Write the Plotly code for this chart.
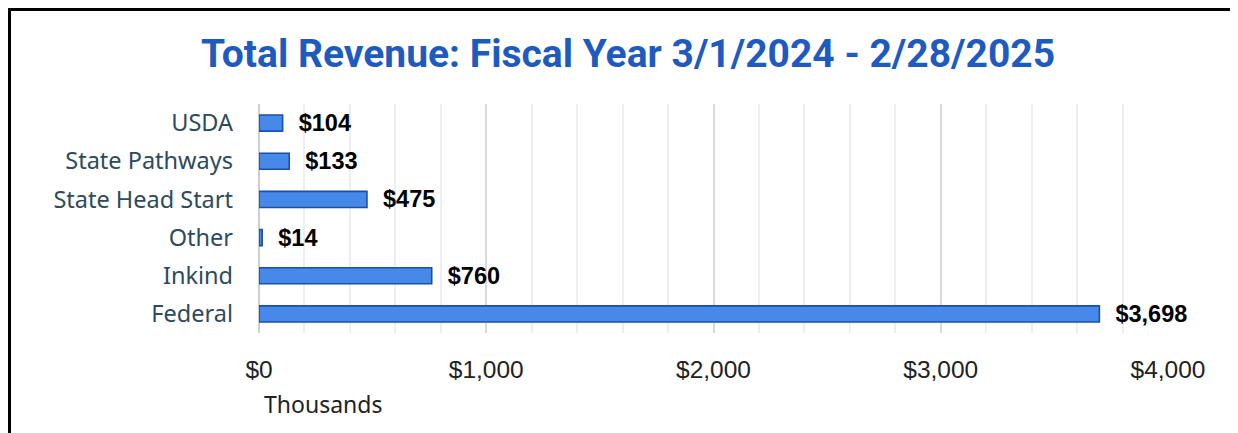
import plotly.graph_objects as go

# ── Data (thousands of dollars) ───────────────────────────────────────────────
categories = ["Federal", "Inkind", "Other", "State Head Start", "State Pathways", "USDA"]
revenue = [3698, 760, 14, 475, 133, 104]
tick_vals = [0, 1000, 2000, 3000, 4000]
tick_text = ["$0", "$1,000", "$2,000", "$3,000", "$4,000"]

C_FILL = "#4689E8"
C_EDGE = "#1A4FAA"
C_TITLE = "#1F5BBF"
C_CAT = "#2E4A5C"

# page has an 8px body margin, so the figure is laid out in shifted coords
OFF = 8
W, H = 1238 - OFF, 433 - OFF
L, T = 259 - OFF, 104 - OFF
R = W - (1168 - OFF)
B = H - (333 - OFF)

fig = go.Figure(go.Bar(
    x=revenue,
    y=categories,
    orientation="h",
    marker=dict(color=C_FILL, line=dict(color=C_EDGE, width=1.6)),
    texttemplate="  $%{x:,.0f}",
    textposition="outside",
    constraintext="none",
    textfont=dict(family="Liberation Sans, Arial, sans-serif", size=23.5, color="#000000", weight="bold"),
    cliponaxis=False,
    width=0.42,
))

px = lambda v: (v - OFF - L) / (W - L - R)
py = lambda v: (H - B - (v - OFF)) / (H - T - B)

# frame lines (top and left) of the cropped source picture
fig.add_shape(type="line", xref="paper", yref="paper",
              x0=px(0), x1=px(1250), y0=py(OFF + 1.5), y1=py(OFF + 1.5),
              line=dict(color="#000000", width=3))
fig.add_shape(type="line", xref="paper", yref="paper",
              x0=px(OFF + 1.5), x1=px(OFF + 1.5), y0=py(0), y1=py(450),
              line=dict(color="#000000", width=3))

fig.add_annotation(text="Thousands", xref="paper", yref="paper",
                   x=px(262), y=py(404), xanchor="left", yanchor="middle",
                   showarrow=False,
                   font=dict(family="Noto Sans, sans-serif", size=23, color="#222222"))

fig.update_layout(
    width=W, height=H,
    paper_bgcolor="#ffffff",
    plot_bgcolor="#ffffff",
    margin=dict(l=L, r=R, t=T, b=B),
    showlegend=False,
    title=dict(
        text="<b>Total Revenue: Fiscal Year 3/1/2024 - 2/28/2025</b>",
        x=(628 - OFF) / W, xref="container", xanchor="center",
        y=1 - (53 - OFF) / H, yref="container", yanchor="middle",
        font=dict(family="Roboto, sans-serif", size=39, color=C_TITLE),
    ),
    xaxis=dict(
        range=[0, 4000],
        tickvals=tick_vals, ticktext=tick_text,
        showgrid=True, gridcolor="#D9D9D9", gridwidth=1.5,
        minor=dict(dtick=200, showgrid=True, gridcolor="#EEEEEE", gridwidth=1.5),
        zeroline=True, zerolinecolor="#CFCFCF", zerolinewidth=2,
        ticks="", ticklabelstandoff=19,
        tickfont=dict(family="Liberation Sans, Arial, sans-serif", size=24.5, color="#222222"),
        fixedrange=True,
    ),
    yaxis=dict(
        showgrid=False,
        ticks="", ticklabelstandoff=25,
        tickfont=dict(family="Noto Sans, sans-serif", size=23.5, color=C_CAT),
        fixedrange=True,
    ),
)

fig.write_html("out.html")
